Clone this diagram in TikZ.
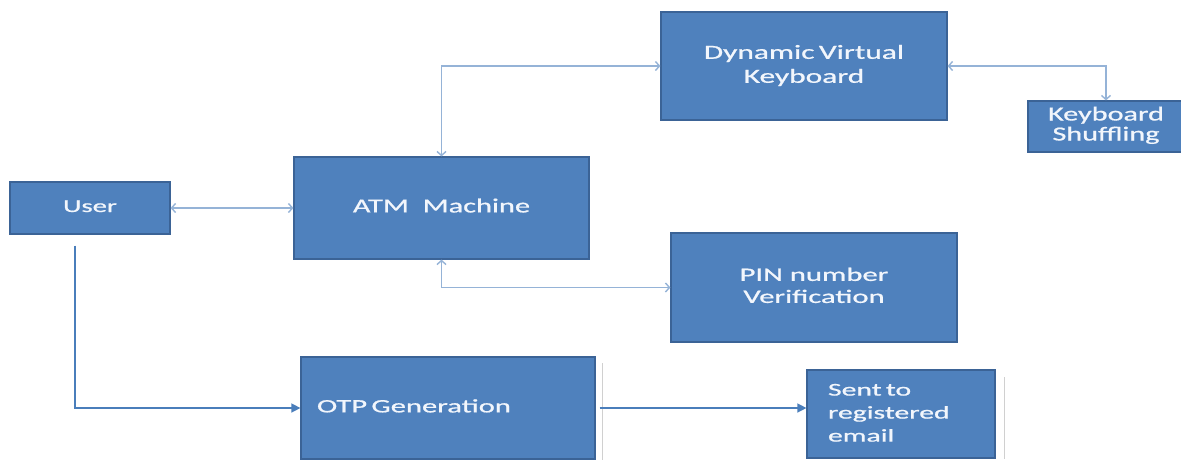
\documentclass[tikz,border=0pt]{standalone}
\usepackage{fontspec}
\setmainfont{Carlito}
\newfontfamily\heavyish[FakeBold=0.7]{Carlito}
\usepackage{graphicx}
\usetikzlibrary{arrows.meta}
\definecolor{boxfill}{HTML}{4F81BD}
\definecolor{boxedge}{HTML}{3B6396}
\definecolor{lightline}{HTML}{95B3D7}
\definecolor{darkline}{HTML}{4A7EBB}
\definecolor{ghost}{HTML}{D0D0D0}
\definecolor{boxtextcol}{HTML}{F2F6FC}
\newcommand{\boxtext}[5]{\scalebox{#1}[1]{\fontsize{#2}{#3}\selectfont\begin{tabular}{@{}#4@{}}#5\end{tabular}}}
\newcommand{\tightsp}{\hspace{0.14em}}
\tikzset{
  blockbox/.style={draw=boxedge, fill=boxfill, line width=1.2pt, inner sep=0pt, text=boxtextcol, font=\heavyish},
  lightconn/.style={draw=lightline, line width=1.4pt, {Straight Barb[length=4pt,width=9pt]}-{Straight Barb[length=4pt,width=9pt]}},
  darkconn/.style={draw=darkline, line width=1.4pt, -{Triangle[length=9pt,width=9pt]}},
  ghostline/.style={draw=ghost, line width=1.2pt}
}
\begin{document}
\begin{tikzpicture}[x=1pt,y=-1pt]
\useasboundingbox[fill=white] (0,0) rectangle (1181,461);
% nodes
\node[blockbox, minimum width=160pt, minimum height=52pt] (user) at (90,208)
  {\boxtext{1.59}{18}{20}{c}{User}};
\node[blockbox, minimum width=295pt, minimum height=102pt] (atm) at (441.5,208)
  {\boxtext{1.52}{20}{22}{c}{ATM\ \ Machine}};
\node[blockbox, minimum width=286pt, minimum height=108pt] (dvk) at (804,66)
  {\boxtext{1.57}{20}{24}{c}{Dynamic\tightsp Virtual\\ Keyboard}};
\node[blockbox, minimum width=156pt, minimum height=51pt] (ks) at (1106,126.5)
  {\boxtext{1.51}{20}{20}{c}{Keyboard\\ Shuffling}};
\node[blockbox, minimum width=286pt, minimum height=109pt] (pin) at (814,287.5)
  {\boxtext{1.61}{19}{22}{c}{PIN number\\ Verification}};
\node[blockbox, minimum width=294pt, minimum height=102pt, text width=262pt, align=left, inner xsep=16pt] (otp) at (448,408)
  {\boxtext{1.61}{19}{22}{l}{OTP\tightsp Generation}};
\node[blockbox, minimum width=188pt, minimum height=88pt, text width=146pt, align=left, inner xsep=21pt] (sent) at (901,414)
  {\boxtext{1.65}{18}{23}{l}{Sent\tightsp to\\ registered\\ email}};
% faint edges beside the lower boxes
\draw[ghostline] ([xshift=7pt,yshift=-7pt]otp.north east) -- ([xshift=7pt]otp.south east);
\draw[ghostline] ([xshift=9pt,yshift=-8pt]sent.north east) -- ([xshift=9pt]sent.south east);
% connectors
\draw[lightconn] (user.east) -- (atm.west);
\draw[lightconn] (atm.north) |- (dvk.west);
\draw[lightconn] (dvk.east) -| (ks.north);
\draw[lightconn] (atm.south) |- (pin.west);
\draw[darkconn] ([xshift=-15pt,yshift=-11pt]user.south) |- (otp.west);
\draw[darkconn] ([xshift=4pt]otp.east) -- (otp.east -| sent.west);
\end{tikzpicture}
\end{document}
